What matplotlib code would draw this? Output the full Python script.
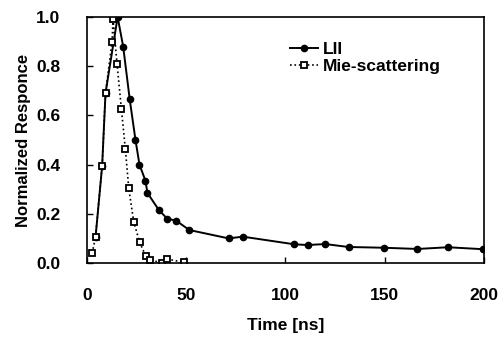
import matplotlib
matplotlib.use('Agg')
import matplotlib.pyplot as plt

plt.rcParams['font.family'] = ['Liberation Sans', 'DejaVu Sans']
plt.rcParams['font.weight'] = 'bold'

# LII signal
lii_t = [4.4, 7.7, 9.4, 15.5, 18.3, 21.6, 24.5, 26.5, 29.5, 30.5, 36.3, 40.5, 45.0,
         51.6, 71.4, 78.6, 104.5, 111.2, 120.1, 131.8, 149.7, 166.5, 181.9, 199.7]
lii_y = [0.107, 0.394, 0.69, 1.0, 0.88, 0.665, 0.50, 0.40, 0.335, 0.285, 0.215, 0.18, 0.172,
         0.134, 0.10, 0.107, 0.076, 0.073, 0.077, 0.065, 0.062, 0.057, 0.064, 0.056]

# Mie-scattering signal
mie_t = [2.7, 4.4, 7.7, 9.4, 12.7, 13.2, 15.2, 17.4, 19.4, 21.1, 23.6, 26.6, 29.6,
         32.0, 38.0, 40.5, 48.7]
mie_y = [0.04, 0.107, 0.394, 0.69, 0.90, 0.99, 0.81, 0.626, 0.463, 0.304, 0.168, 0.084, 0.03,
         0.012, 0.0, 0.016, 0.003]

fig = plt.figure(figsize=(5.02, 3.40), dpi=100)
ax = fig.add_axes([0.173, 0.2265, 0.791, 0.7235])

ax.plot(lii_t, lii_y, '-', color='black', linewidth=1.4, marker='o', markersize=4.5,
        markerfacecolor='black', markeredgecolor='black', label='LII')
ax.plot(mie_t, mie_y, ':', color='black', linewidth=1.2, marker='s', markersize=4.5,
        markerfacecolor='white', markeredgecolor='black', markeredgewidth=1.3,
        label='Mie-scattering')

ax.set_xlim(0, 200)
ax.set_ylim(0, 1.0)
ax.set_xticks([0, 50, 100, 150, 200])
ax.set_yticks([0.0, 0.2, 0.4, 0.6, 0.8, 1.0])
ax.set_yticklabels(['0.0', '0.2', '0.4', '0.6', '0.8', '1.0'])
ax.tick_params(direction='in', length=4, width=1, labelsize=12.5)
ax.tick_params(axis='x', pad=18)
ax.tick_params(axis='y', pad=19)
for s in ax.spines.values():
    s.set_linewidth(1.2)

ax.set_xlabel('Time [ns]', fontsize=12.5, fontweight='bold', labelpad=11)
ax.set_ylabel('Normalized Responce', fontsize=12, fontweight='bold')
ax.yaxis.set_label_coords(-0.14, 0.5)

ax.legend(loc='upper left', bbox_to_anchor=(0.49, 0.935), frameon=False,
          fontsize=12.5, handlelength=1.6, handletextpad=0.3, labelspacing=0.12,
          borderpad=0)

fig.savefig('out.png', dpi=100)
